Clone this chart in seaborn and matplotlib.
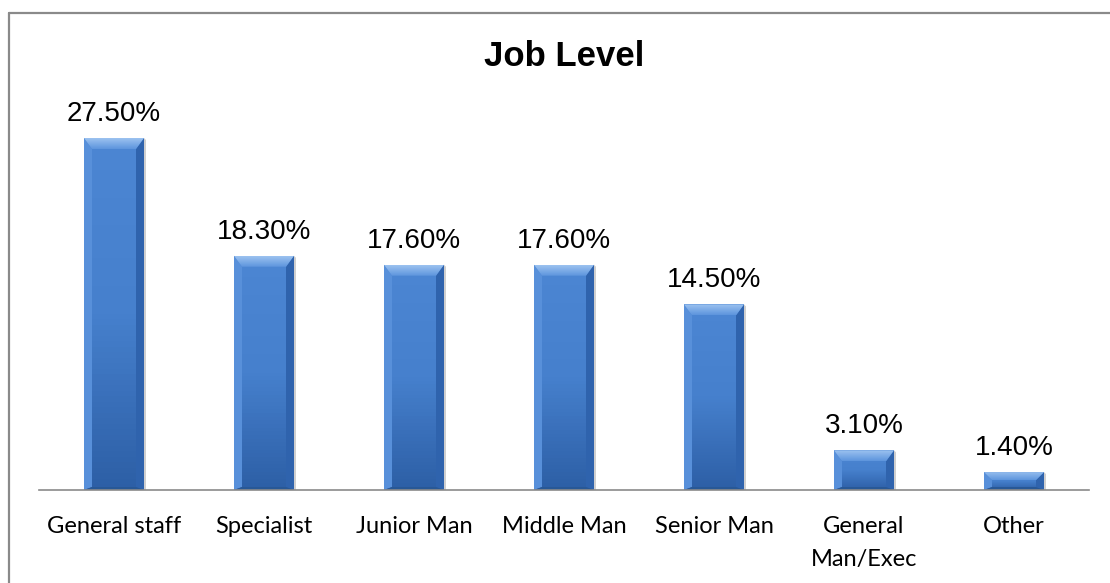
import matplotlib
matplotlib.use("Agg")
import matplotlib.pyplot as plt
from matplotlib.patches import Polygon
from matplotlib.lines import Line2D
import numpy as np
import pandas as pd
import seaborn as sns

# Share of respondents by job level (%)
levels = ["General staff", "Specialist", "Junior Man", "Middle Man",
          "Senior Man", "General\nMan/Exec", "Other"]
shares = [27.5, 18.3, 17.6, 17.6, 14.5, 3.1, 1.4]
title = "Job Level"

df = pd.DataFrame({"level": levels, "share": shares})

sns.set_theme(style="white")
plt.rcParams["font.family"] = ["Liberation Sans", "DejaVu Sans"]

W, H = 1110, 583
fig = plt.figure(figsize=(W / 100, H / 100), dpi=100)
ax = fig.add_axes([39 / W, 93 / H, 1050 / W, 384 / H])

face = "#4479c4"
sns.barplot(data=df, x="level", y="share", color=face, width=0.4,
            saturation=1, ax=ax, edgecolor="none", zorder=2)
ax.set_ylim(0, 30)
ax.set_xlim(-0.5, len(levels) - 0.5)

# bevel sizes: pixels converted to data units
px_x = (len(levels)) / 1050
px_y = 30 / 384
bx, by, bb = 8 * px_x, 11 * px_y, 3 * px_y

face_cmap = matplotlib.colors.LinearSegmentedColormap.from_list(
    "face", ["#2d5fa6", "#4680cd", "#4c86d3"])
top_cmap = matplotlib.colors.LinearSegmentedColormap.from_list(
    "top", ["#5d95dd", "#9cc2f0"])

for p in list(ax.patches):
    x0 = p.get_x()
    w = p.get_width()
    h = p.get_height()
    x1 = x0 + w
    # soft vertical shading of the bar face
    grad = np.linspace(0, 1, 64).reshape(-1, 1)
    im = ax.imshow(grad, extent=[x0, x1, 0, h], origin="lower", cmap=face_cmap,
                   aspect="auto", zorder=2.1)
    im.set_clip_path(p)
    top_h = min(by, h * 0.45)
    side_w = bx
    # left side
    ax.add_patch(Polygon([[x0, 0], [x0 + side_w, bb], [x0 + side_w, h - top_h],
                          [x0, h]], closed=True, color="#5890da", lw=0, zorder=2.2))
    # right side
    ax.add_patch(Polygon([[x1, 0], [x1 - side_w, bb], [x1 - side_w, h - top_h],
                          [x1, h]], closed=True, color="#2f63ad", lw=0, zorder=2.2))
    # top bevel, lighter towards the upper edge
    top = Polygon([[x0, h], [x1, h], [x1 - side_w, h - top_h],
                   [x0 + side_w, h - top_h]], closed=True, lw=0,
                  facecolor="none", zorder=2.3)
    ax.add_patch(top)
    tim = ax.imshow(grad, extent=[x0, x1, h - top_h, h], origin="lower",
                    cmap=top_cmap, aspect="auto", zorder=2.3)
    tim.set_clip_path(top)
    # bottom bevel
    ax.add_patch(Polygon([[x0, 0], [x1, 0], [x1 - side_w, bb], [x0 + side_w, bb]],
                         closed=True, color="#285896", lw=0, zorder=2.3))
    # faint shadow on the right
    ax.add_patch(Polygon([[x1, 0], [x1 + 2 * px_x, 0], [x1 + 2 * px_x, h - 2 * px_y],
                          [x1, h]], closed=True, color="#cfcfcf", lw=0, zorder=1.9))

ax.set_ylim(0, 30)
ax.set_xlim(-0.5, len(levels) - 0.5)

for c in ax.containers:
    ax.bar_label(c, labels=[f"{v:.2f}%" for v in shares], padding=8,
                 fontsize=20, color="black", family=["Liberation Sans", "DejaVu Sans"])

ax.set_title(title, fontsize=25, fontweight="bold", pad=29, color="black",
             family=["Liberation Sans", "DejaVu Sans"])
ax.set_xlabel("")
ax.set_ylabel("")
ax.set_yticks([])
ax.tick_params(axis="x", length=0, pad=19)
for t in ax.get_xticklabels():
    t.set_family(["Lato", "DejaVu Sans"])
    t.set_fontsize(17)
    t.set_linespacing(1.7)
    t.set_color("black")

for s in ["top", "right", "left"]:
    ax.spines[s].set_visible(False)
ax.spines["bottom"].set_color("#8a8a8a")
ax.spines["bottom"].set_linewidth(1.2)
ax.grid(False)

# outer chart frame (top and left edges)
fig.add_artist(Line2D([9 / W, 9 / W], [0, 1 - 13 / H], transform=fig.transFigure,
                      color="#8a8a8a", lw=1.6))
fig.add_artist(Line2D([9 / W, 1], [1 - 13 / H, 1 - 13 / H], transform=fig.transFigure,
                      color="#8a8a8a", lw=1.6))

fig.savefig("out.png", dpi=100)
